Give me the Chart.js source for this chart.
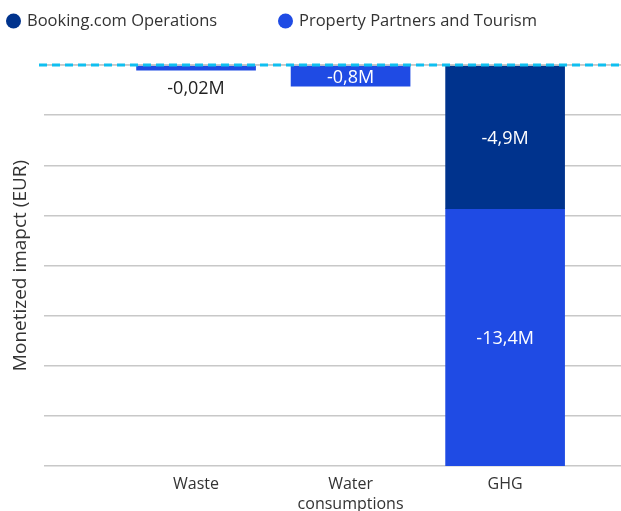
<!DOCTYPE html>
<html>
<head>
    <title>Monetized impact</title>
    <script src="https://cdn.jsdelivr.net/npm/chart.js"></script>
    <style>
        body { margin: 0; background: #fff; }
        #wrap { width: 621px; height: 511px; }
    </style>
</head>
<body>
    <div id="wrap"><canvas id="impactChart"></canvas></div>

    <script>
        const categories = ['Waste', 'Water consumptions', 'GHG'];
        const seriesNames = ['Booking.com Operations', 'Property Partners and Tourism'];
        // bar lengths as drawn in the picture (M EUR)
        const operationsValues = [null, null, -6.56];
        const partnersValues = [-0.24, -0.97, -11.74];
        // value labels as printed on the bars
        const operationsLabels = [null, null, '-4,9M'];
        const partnersLabels = ['-0,02M', '-0,8M', '-13,4M'];

        const darkBlue = '#00338d';
        const lightBlue = '#1f4be4';
        const fontName = '"Open Sans", "Noto Sans", sans-serif';

        // axis bottom = the tallest stack
        const axisMin = Math.min(...categories.map((c, i) => (operationsValues[i] || 0) + (partnersValues[i] || 0)));

        function toPoints(values) {
            return values.map((v, i) => ({ x: i + 1, y: v }));
        }

        // draws the value text on / under each bar
        const barLabels = {
            id: 'barLabels',
            afterDatasetsDraw(chart) {
                const ctx = chart.ctx;
                ctx.save();
                ctx.font = '18px ' + fontName;
                ctx.textAlign = 'center';
                ctx.textBaseline = 'middle';
                chart.data.datasets.forEach((ds, di) => {
                    const meta = chart.getDatasetMeta(di);
                    meta.data.forEach((bar, i) => {
                        const text = ds.valueLabels[i];
                        if (!text) return;
                        const h = Math.abs(bar.base - bar.y);
                        if (h < 16) {
                            // too thin, put it below the bar
                            ctx.fillStyle = '#222';
                            ctx.fillText(text, bar.x, Math.max(bar.y, bar.base) + 19);
                        } else {
                            ctx.fillStyle = '#fff';
                            ctx.fillText(text, bar.x, (bar.y + bar.base) / 2 + 2);
                        }
                    });
                });
                ctx.restore();
            }
        };

        // dashed zero line across the whole width
        const zeroLine = {
            id: 'zeroLine',
            afterDatasetsDraw(chart) {
                const ctx = chart.ctx;
                const y = chart.scales.y.getPixelForValue(0);
                ctx.save();
                ctx.strokeStyle = '#c8c8c8';
                ctx.lineWidth = 1.5;
                ctx.beginPath();
                ctx.moveTo(39, y);
                ctx.lineTo(chart.width, y);
                ctx.stroke();
                ctx.strokeStyle = '#10bff0';
                ctx.lineWidth = 3;
                ctx.setLineDash([8, 5]);
                ctx.beginPath();
                ctx.moveTo(39, y);
                ctx.lineTo(chart.width, y);
                ctx.stroke();
                ctx.restore();
            }
        };

        // legend with round markers, left aligned
        const dotLegend = {
            id: 'dotLegend',
            afterDraw(chart) {
                const ctx = chart.ctx;
                const starts = [6, 278];
                ctx.save();
                ctx.font = '16.5px ' + fontName;
                ctx.textAlign = 'left';
                ctx.textBaseline = 'middle';
                chart.data.datasets.forEach((ds, i) => {
                    const x = starts[i];
                    ctx.fillStyle = ds.backgroundColor;
                    ctx.beginPath();
                    ctx.arc(x + 7.5, 21, 7.5, 0, Math.PI * 2);
                    ctx.fill();
                    ctx.fillStyle = '#333';
                    ctx.fillText(ds.label, x + 21, 21);
                });
                ctx.restore();
            }
        };

        const ctx = document.getElementById('impactChart').getContext('2d');
        new Chart(ctx, {
            type: 'bar',
            data: {
                datasets: [{
                    label: seriesNames[0],
                    data: toPoints(operationsValues),
                    valueLabels: operationsLabels,
                    backgroundColor: darkBlue,
                    barThickness: 119
                }, {
                    label: seriesNames[1],
                    data: toPoints(partnersValues),
                    valueLabels: partnersLabels,
                    backgroundColor: lightBlue,
                    barThickness: 119
                }]
            },
            options: {
                responsive: true,
                maintainAspectRatio: false,
                animation: false,
                layout: { padding: { top: 65, left: 0, right: 0, bottom: 0 } },
                plugins: {
                    legend: { display: false },
                    tooltip: { enabled: false }
                },
                scales: {
                    x: {
                        type: 'linear',
                        stacked: true,
                        offset: false,
                        min: 0.016,
                        max: 3.75,
                        grid: { display: false, drawTicks: false, offset: false },
                        border: { display: false },
                        afterFit(scale) { scale.height = 45; },
                        ticks: {
                            stepSize: 1,
                            includeBounds: false,
                            autoSkip: false,
                            maxRotation: 0,
                            padding: 8,
                            color: '#333',
                            font: { family: fontName, size: 16, lineHeight: 1.25 },
                            callback: (v) => {
                                const name = categories[v - 1];
                                if (!name) return '';
                                return name.includes(' ') ? name.split(' ') : name;
                            }
                        }
                    },
                    y: {
                        stacked: true,
                        min: axisMin,
                        max: 0,
                        afterFit(scale) { scale.width = 44; },
                        grid: { color: '#c8c8c8', lineWidth: 1.5, drawTicks: false },
                        border: { display: false },
                        ticks: { display: false, count: 9 },
                        title: {
                            display: true,
                            text: 'Monetized imapct (EUR)',
                            color: '#333',
                            padding: { top: 9, bottom: 0 },
                            font: { family: fontName, size: 19 }
                        }
                    }
                }
            },
            plugins: [zeroLine, barLabels, dotLegend]
        });
    </script>
</body>
</html>
